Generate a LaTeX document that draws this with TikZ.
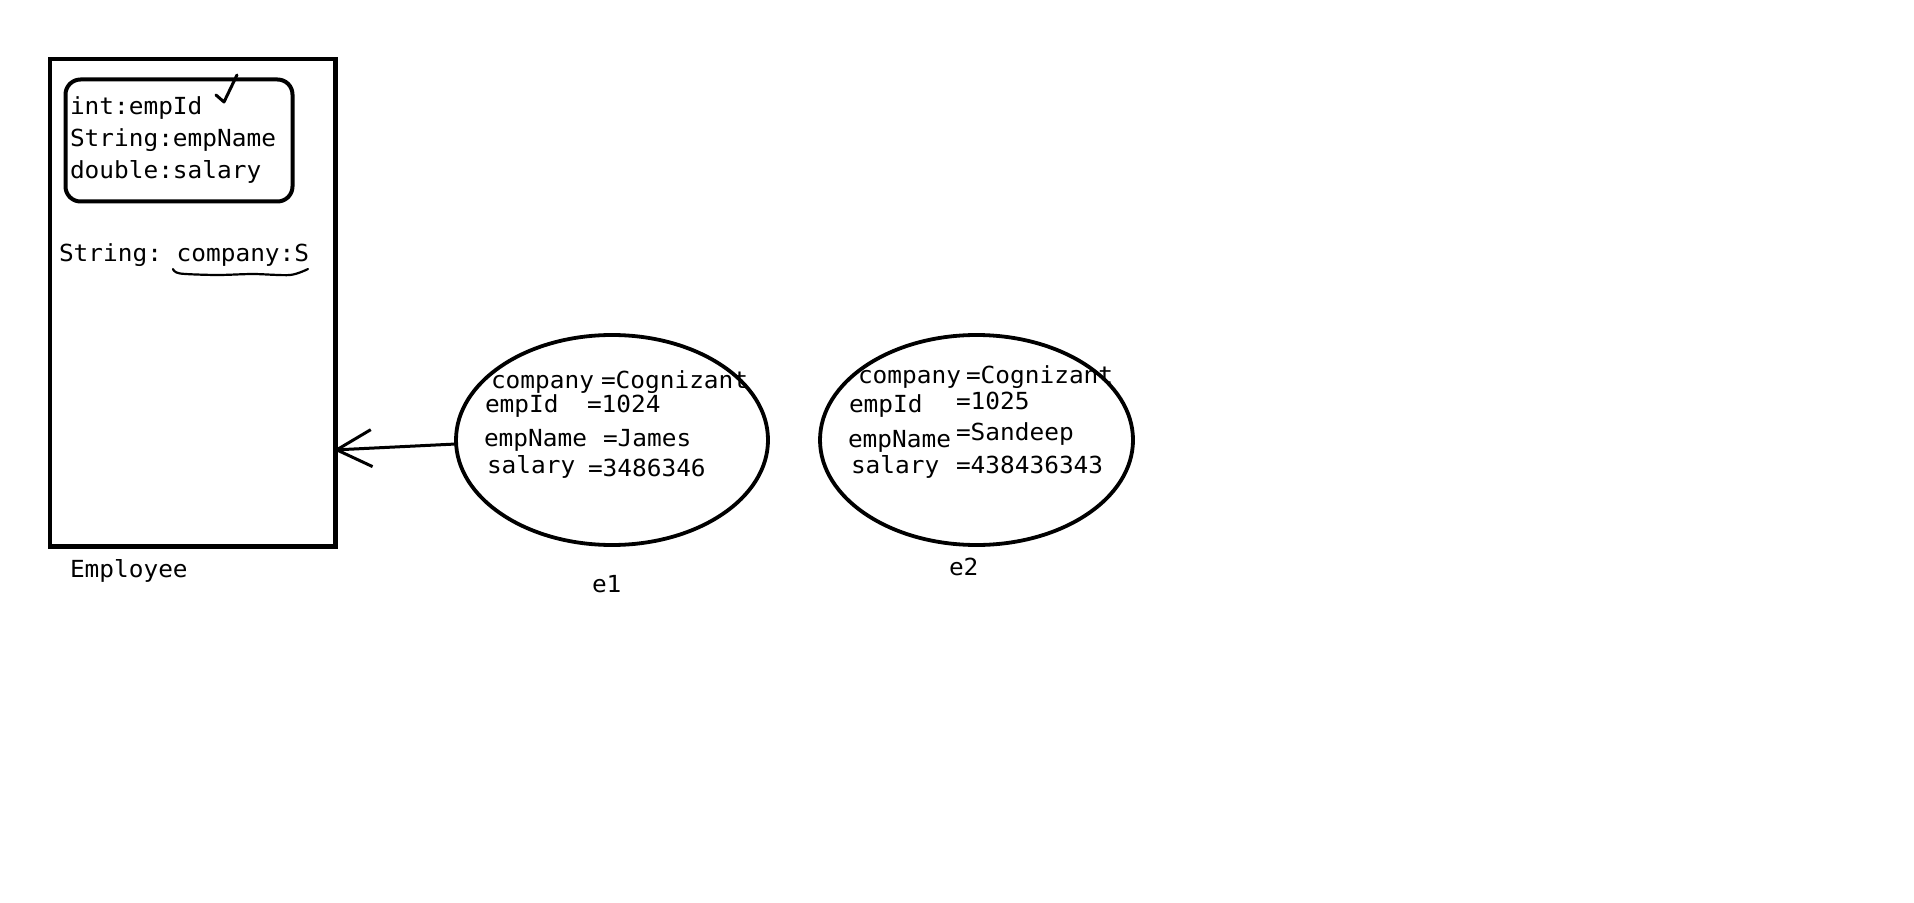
\documentclass[tikz,border=0pt]{standalone}
\usepackage{fontspec}
\setmonofont[FakeStretch=1.04]{DejaVu Sans Mono}
\usetikzlibrary{shapes.geometric,arrows.meta}
\begin{document}
\begin{tikzpicture}[x=0.5pt,y=-0.5pt,
  every node/.style={outer sep=0pt},
  txt/.style={anchor=base west, inner sep=0pt, font=\ttfamily\fontsize{11.75}{13}\selectfont},
  obj/.style={draw, ellipse, inner sep=0pt, line width=1.9pt, minimum height=105pt},
  pen/.style={line width=1.5pt, line cap=round, line join=round}]
\useasboundingbox[fill=white] (0,0) rectangle (1914,903);
% class box
\node (emp) [draw, line width=2.25pt, inner sep=0pt, minimum width=142.75pt, minimum height=243.75pt] at (192.75,302.75) {};
\node (fields) [draw, line width=2pt, rounded corners=7.5pt, inner sep=0pt, minimum width=113.5pt, minimum height=61pt] at (179,140.5) {};
\node (f1) [txt] at (70,115) {int:empId};
\node (f2) [txt] at (70,147) {String:empName};
\node (f3) [txt] at (70,179) {double:salary};
\node (stat) [txt] at (59,262) {String: company:S};
\node (empl) [txt] at (70,577) {Employee};
% check mark and underline
\draw[pen] (216,95) -- (224,102) -- (237,75);
\draw[line width=1.1pt, line cap=round] plot[smooth] coordinates {(173,269) (180,273.5) (217,275) (253,274) (290,275) (308,269)};
% object e1
\node (e1) [obj, minimum width=156pt] at (612,440) {};
\node (e1a) [txt] at (491,388) {company};
\node (e1av) [txt] at (601,388) {=Cognizant};
\node (e1b) [txt] at (485,412) {empId};
\node (e1bv) [txt] at (587,412) {=1024};
\node (e1c) [txt] at (484,446) {empName};
\node (e1cv) [txt] at (603,446) {=James};
\node (e1d) [txt] at (487,473) {salary};
\node (e1dv) [txt] at (588,476) {=3486346};
\node (e1l) [txt] at (592,592) {e1};
% object e2
\node (e2) [obj, minimum width=156.5pt] at (976.5,440) {};
\node (e2a) [txt] at (858,383) {company};
\node (e2av) [txt] at (966,383) {=Cognizant};
\node (e2b) [txt] at (849,412) {empId};
\node (e2bv) [txt] at (956,409) {=1025};
\node (e2c) [txt] at (848,447) {empName};
\node (e2cv) [txt] at (956,440) {=Sandeep};
\node (e2d) [txt] at (851,473) {salary};
\node (e2dv) [txt] at (956,473) {=438436343};
\node (e2l) [txt] at (949,575) {e2};
% reference arrow
\coordinate (tipc) at (emp.east |- e1.west);
\draw[pen, -{Straight Barb[length=17.5pt,width=18.5pt,line width=1.5pt]}] ([yshift=-2pt]e1.west) -- ([yshift=-5pt,xshift=-1pt]tipc);
\end{tikzpicture}
\end{document}
